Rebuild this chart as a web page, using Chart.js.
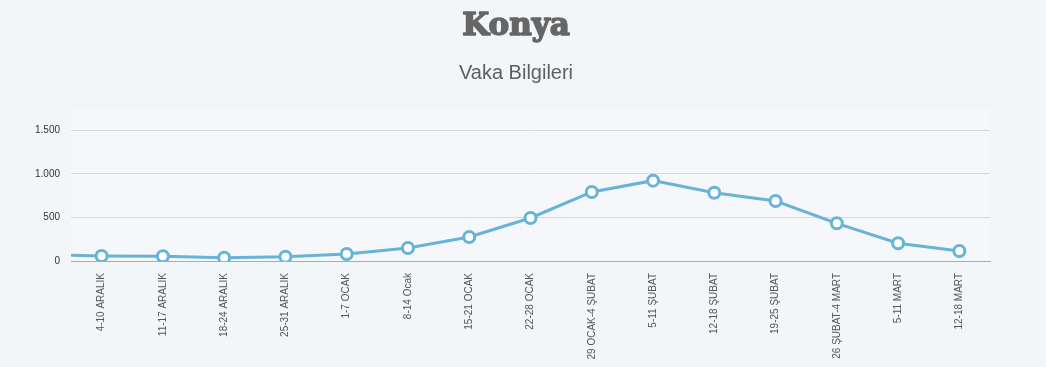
<!DOCTYPE html>
<html>
<head>
<meta charset="utf-8">
<script src="https://cdn.jsdelivr.net/npm/chart.js@4"></script>
<style>
  html, body { margin: 0; padding: 0; background: #f3f6f9; }
  #wrap { width: 1046px; height: 367px; }
</style>
</head>
<body>
<div id="wrap"><canvas id="chart-konya"></canvas></div>
<script>
// first week sits left of the visible range, only its line segment shows
var weeks = ['27 KASIM-3 ARALIK', '4-10 ARALIK', '11-17 ARALIK', '18-24 ARALIK', '25-31 ARALIK', '1-7 OCAK', '8-14 Ocak',
    '15-21 OCAK', '22-28 OCAK', '29 OCAK-4 ŞUBAT', '5-11 ŞUBAT', '12-18 ŞUBAT', '19-25 ŞUBAT',
    '26 ŞUBAT-4 MART', '5-11 MART', '12-18 MART'];
var cases = [74, 57, 54, 38, 49, 80, 149, 275, 493, 791, 921, 783, 688, 432, 203, 115];
var yTicks = [0, 500, 1000, 1500];

var lineColor = '#68b3d8';
var titleFont = { family: '"DejaVu Serif", serif', size: 31, weight: 'bold', lineHeight: 1.2 };

const plotBg = {
    id: 'plotBg',
    beforeDraw(chart) {
        const a = chart.chartArea;
        const ctx = chart.ctx;
        ctx.save();
        ctx.fillStyle = '#f5f7fa';
        ctx.fillRect(a.left, a.top, a.right - a.left, a.bottom - a.top);
        ctx.restore();
    }
};

// the title font in the original is heavier, go over it once more with a stroke
const heavyTitle = {
    id: 'heavyTitle',
    afterDraw(chart) {
        const t = chart.titleBlock;
        if (!t) return;
        const ctx = chart.ctx;
        const pad = t.options.padding;
        ctx.save();
        ctx.font = titleFont.weight + ' ' + titleFont.size + 'px ' + titleFont.family;
        ctx.textAlign = 'center';
        ctx.textBaseline = 'middle';
        ctx.strokeStyle = '#666666';
        ctx.lineWidth = 1.6;
        ctx.lineJoin = 'round';
        ctx.strokeText(t.options.text, (t.left + t.right) / 2, t.top + pad.top + titleFont.size * titleFont.lineHeight / 2);
        ctx.restore();
    }
};

const ctx1 = document.getElementById('chart-konya').getContext('2d');
var konyaChart = new Chart(ctx1, {
    type: 'line',
    data: {
        labels: weeks,
        datasets: [{
            label: 'Vaka',
            data: cases,
            borderColor: lineColor,
            borderWidth: 3,
            backgroundColor: '#ffffff',
            pointBackgroundColor: '#ffffff',
            pointBorderColor: lineColor,
            pointBorderWidth: 3,
            pointRadius: 5.5,
            tension: 0
        }]
    },
    options: {
        responsive: true,
        maintainAspectRatio: false,
        animation: false,
        layout: { padding: { left: 0, right: 14, top: 0, bottom: 0 } },
        plugins: {
            legend: { display: false },
            tooltip: { enabled: false },
            title: {
                display: true,
                text: 'Konya',
                color: '#666666',
                font: titleFont,
                padding: { top: 8, bottom: 16 }
            },
            subtitle: {
                display: true,
                text: 'Vaka Bilgileri',
                color: '#5e5e5e',
                font: { family: '"Liberation Sans", Arial, sans-serif', size: 20, lineHeight: 1.2 },
                padding: { top: 0, bottom: 24 }
            }
        },
        scales: {
            x: {
                min: '4-10 ARALIK',
                offset: true,
                grid: { display: false, drawTicks: false },
                border: { display: true, color: '#a8abb0', width: 1 },
                ticks: {
                    autoSkip: false,
                    minRotation: 90,
                    maxRotation: 90,
                    padding: 12,
                    color: '#555555',
                    font: { family: '"Liberation Sans", Arial, sans-serif', size: 10 }
                },
                afterFit: function (scale) { scale.height = 106; }
            },
            y: {
                min: 0,
                max: 1740,
                grid: { color: '#d5d8dd', drawTicks: false },
                border: { display: false },
                ticks: {
                    stepSize: 500,
                    padding: 11,
                    color: '#333333',
                    font: { family: '"Liberation Sans", Arial, sans-serif', size: 10 },
                    callback: function (v) { return v.toLocaleString('tr-TR'); }
                },
                afterBuildTicks: function (scale) {
                    scale.ticks = yTicks.map(function (v) { return { value: v }; });
                },
                afterFit: function (scale) { scale.width = 71; }
            },
            // empty right-hand margin, keeps the title centred on the page
            yRight: {
                position: 'right',
                grid: { display: false, drawTicks: false },
                border: { display: false },
                ticks: { display: false },
                afterFit: function (scale) { scale.width = 42; }
            }
        }
    },
    plugins: [plotBg, heavyTitle]
});
</script>
</body>
</html>
